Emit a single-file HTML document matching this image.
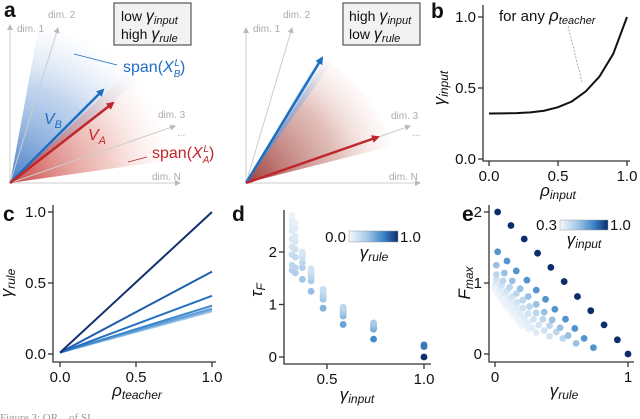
<!DOCTYPE html>
<html><head><meta charset="utf-8">
<style>
html,body{margin:0;padding:0;background:#fff;}
svg{display:block;font-family:"Liberation Sans",sans-serif;}
.tk{font-size:15px;fill:#111;}
.lt{font-size:21px;font-weight:bold;fill:#111;}
.ax{stroke:#333;stroke-width:1.3;fill:none;}
.dim{font-size:10px;fill:#aaa;}
</style></head><body>
<svg id="fig" width="640" height="419" viewBox="0 0 640 419" xmlns="http://www.w3.org/2000/svg">
<defs>
<radialGradient id="gB" cx="10" cy="183" r="165" gradientUnits="userSpaceOnUse">
<stop offset="0" stop-color="#3b78c4" stop-opacity="0.95"/><stop offset="0.6" stop-color="#7aa3db" stop-opacity="0.45"/><stop offset="1" stop-color="#c5d6f0" stop-opacity="0"/></radialGradient>
<radialGradient id="gR" cx="10" cy="183" r="165" gradientUnits="userSpaceOnUse">
<stop offset="0" stop-color="#c83a3a" stop-opacity="0.95"/><stop offset="0.6" stop-color="#e08a80" stop-opacity="0.45"/><stop offset="1" stop-color="#f5d0c8" stop-opacity="0"/></radialGradient>
<radialGradient id="gB2" cx="246" cy="183" r="150" gradientUnits="userSpaceOnUse">
<stop offset="0" stop-color="#3b78c4" stop-opacity="0.9"/><stop offset="0.7" stop-color="#8fb3e2" stop-opacity="0.5"/><stop offset="1" stop-color="#c5d6f0" stop-opacity="0"/></radialGradient>
<radialGradient id="gR2" cx="246" cy="183" r="158" gradientUnits="userSpaceOnUse">
<stop offset="0" stop-color="#9a3434" stop-opacity="0.95"/><stop offset="0.6" stop-color="#c98a80" stop-opacity="0.55"/><stop offset="1" stop-color="#f5d8d0" stop-opacity="0"/></radialGradient>
<linearGradient id="cb" x1="0" x2="1" y1="0" y2="0">
<stop offset="0" stop-color="#f4f8fc"/><stop offset="0.35" stop-color="#a9cbe8"/><stop offset="0.7" stop-color="#3d86c8"/><stop offset="1" stop-color="#0c2c6c"/></linearGradient>
<marker id="ab" markerWidth="8" markerHeight="8" refX="6" refY="4" orient="auto" markerUnits="userSpaceOnUse"><path d="M0,0 L8,4 L0,8 z" fill="#1f6fc0"/></marker>
<marker id="ar" markerWidth="8" markerHeight="8" refX="6" refY="4" orient="auto" markerUnits="userSpaceOnUse"><path d="M0,0 L8,4 L0,8 z" fill="#c0262d"/></marker>
<marker id="ag" markerWidth="6" markerHeight="6" refX="5" refY="3" orient="auto" markerUnits="userSpaceOnUse"><path d="M0,0 L6,3 L0,6 z" fill="#bbb"/></marker>
</defs>

<g>
<path d="M10,183 L40,20 A165,165 0 0 1 140,80 Z" fill="url(#gB)"/>
<path d="M10,183 L130,70 A165,165 0 0 1 172,160 Z" fill="url(#gR)"/>
<line x1="10" y1="183" x2="10" y2="25" stroke="#ccc" marker-end="url(#ag)"/>
<line x1="10" y1="183" x2="58" y2="28" stroke="#ccc" marker-end="url(#ag)"/>
<line x1="10" y1="183" x2="175" y2="126" stroke="#ccc" marker-end="url(#ag)"/>
<line x1="10" y1="183" x2="180" y2="183" stroke="#ccc" marker-end="url(#ag)"/>
<text class="dim" x="17" y="32">dim. 1</text>
<text class="dim" x="48" y="18">dim. 2</text>
<text class="dim" x="158" y="118">dim. 3</text>
<text class="dim" x="177" y="136">...</text>
<text class="dim" x="152" y="180">dim. N</text>
<line x1="10" y1="183" x2="103" y2="90" stroke="#1f6fc0" stroke-width="2.5" marker-end="url(#ab)"/>
<line x1="10" y1="183" x2="113" y2="103" stroke="#c0262d" stroke-width="2.5" marker-end="url(#ar)"/>
<text x="44" y="124" font-size="16" font-style="italic" fill="#1f6fc0">V<tspan font-size="11" dy="4">B</tspan></text>
<text x="88" y="140" font-size="16" font-style="italic" fill="#c0262d">V<tspan font-size="11" dy="4">A</tspan></text>
<line x1="74" y1="54" x2="117" y2="65" stroke="#1f6fc0" stroke-width="0.8"/>
<text x="123" y="72" font-size="16" fill="#1f6fc0">span(<tspan font-style="italic">X</tspan><tspan font-size="10" dy="5" font-style="italic">B</tspan><tspan font-size="10" dy="-11" dx="-6" font-style="italic">L</tspan><tspan dy="6">)</tspan></text>
<line x1="128" y1="162" x2="147" y2="157" stroke="#c0262d" stroke-width="0.8"/>
<text x="152" y="158" font-size="16" fill="#c0262d">span(<tspan font-style="italic">X</tspan><tspan font-size="10" dy="5" font-style="italic">A</tspan><tspan font-size="10" dy="-11" dx="-6" font-style="italic">L</tspan><tspan dy="6">)</tspan></text>
<rect x="114" y="3" width="77" height="42" fill="#f2f2f2" stroke="#555" stroke-width="1.2"/>
<text x="121" y="21" font-size="14" fill="#111">low <tspan font-style="italic" font-size="16">γ</tspan><tspan font-style="italic" font-size="11" dy="3">input</tspan></text>
<text x="121" y="39" font-size="14" fill="#111">high <tspan font-style="italic" font-size="16">γ</tspan><tspan font-style="italic" font-size="11" dy="3">rule</tspan></text>
<text class="lt" x="4" y="17">a</text>
</g>

<g>
<path d="M246,183 L325,60 A150,150 0 0 1 392,146 Z" fill="url(#gR2)"/>
<path d="M246,183 L322,52 L336,57 Z" fill="url(#gB2)"/>
<line x1="246" y1="183" x2="246" y2="28" stroke="#ccc" marker-end="url(#ag)"/>
<line x1="246" y1="183" x2="292" y2="28" stroke="#ccc" marker-end="url(#ag)"/>
<line x1="246" y1="183" x2="410" y2="126" stroke="#ccc" marker-end="url(#ag)"/>
<line x1="246" y1="183" x2="420" y2="183" stroke="#ccc" marker-end="url(#ag)"/>
<text class="dim" x="253" y="32">dim. 1</text>
<text class="dim" x="283" y="18">dim. 2</text>
<text class="dim" x="391" y="119">dim. 3</text>
<text class="dim" x="412" y="136">...</text>
<text class="dim" x="389" y="180">dim. N</text>
<line x1="246" y1="183" x2="322" y2="58" stroke="#1f6fc0" stroke-width="2.5" marker-end="url(#ab)"/>
<line x1="246" y1="183" x2="378" y2="137" stroke="#c0262d" stroke-width="2.5" marker-end="url(#ar)"/>
<rect x="343" y="3" width="77" height="42" fill="#f2f2f2" stroke="#555" stroke-width="1.2"/>
<text x="349" y="21" font-size="14" fill="#111">high <tspan font-style="italic" font-size="16">γ</tspan><tspan font-style="italic" font-size="11" dy="3">input</tspan></text>
<text x="349" y="39" font-size="14" fill="#111">low <tspan font-style="italic" font-size="16">γ</tspan><tspan font-style="italic" font-size="11" dy="3">rule</tspan></text>
</g>

<g id="pb"></g>
<g id="pc"></g>
<g id="pd"></g>
<g id="pe"></g>
<text x="0" y="421" font-size="11" fill="#999" font-family="Liberation Serif">Figure 3: OR... of SL...</text>
</svg>
<script>
// Panel b data
const bX = [0, 0.1, 0.2, 0.3, 0.4, 0.5, 0.6, 0.7, 0.8, 0.9, 1.0];
const bY = [0.32, 0.321, 0.323, 0.328, 0.34, 0.365, 0.405, 0.475, 0.58, 0.74, 1.0];
const bTicksX = [0, 0.5, 1.0];
const bTicksY = [0, 0.5, 1.0];
// Panel c data
const cRates = [1.0, 0.58, 0.41, 0.34, 0.32, 0.31, 0.30];
const cColors = ["#11306f", "#1d5dab", "#2671bf", "#3d86cb", "#5e9dd6", "#80b3e0", "#a4c9e9"];
const cTicks = [0, 0.5, 1.0];
// Panel d data
const dGamma = [0.32, 0.337, 0.373, 0.418, 0.48, 0.583, 0.74, 1.0];
const dTau = [
 [1.65,1.75,1.95,2.1,2.25,2.4,2.5,2.6,2.7],
 [1.6,1.7,1.9,2.05,2.2,2.3,2.45,2.55],
 [1.48,1.7,1.8,1.9,1.95,2.0],
 [1.25,1.45,1.52,1.58,1.63,1.68],
 [0.93,1.1,1.15,1.2,1.25,1.29],
 [0.62,0.78,0.83,0.88,0.92,0.95],
 [0.34,0.53,0.56,0.59,0.62,0.65],
 [0.0,0.2,0.23]
];
const dRule = [
 [0.3,0.25,0.2,0.15,0.12,0.1,0.08,0.06,0.04],
 [0.32,0.27,0.22,0.17,0.13,0.1,0.07,0.05],
 [0.38,0.3,0.25,0.2,0.16,0.12],
 [0.42,0.34,0.28,0.24,0.2,0.16],
 [0.48,0.38,0.32,0.27,0.23,0.2],
 [0.56,0.45,0.4,0.35,0.3,0.26],
 [0.68,0.52,0.48,0.44,0.4,0.36],
 [1.0,0.78,0.74]
];
const dTicksX = [0.5, 1.0];
const dTicksY = [0, 1, 2];
// Panel e data
const eGamma = [0.31, 0.33, 0.36, 0.41, 0.48, 0.58, 0.74, 1.0];
const eX = [
 [0,0.02,0.04,0.06,0.08,0.1,0.12,0.14,0.16,0.18,0.2],
 [0,0.03,0.05,0.08,0.1,0.13,0.15,0.18,0.2,0.23,0.25],
 [0.01,0.04,0.07,0.1,0.13,0.16,0.19,0.22,0.25,0.28,0.31],
 [0.01,0.05,0.09,0.13,0.17,0.21,0.25,0.29,0.33,0.37,0.41],
 [0.01,0.06,0.11,0.16,0.21,0.26,0.31,0.36,0.41,0.46,0.51],
 [0.01,0.07,0.13,0.19,0.25,0.31,0.37,0.43,0.49,0.55,0.61],
 [0.02,0.09,0.16,0.24,0.31,0.38,0.45,0.53,0.6,0.67,0.74],
 [0.02,0.12,0.22,0.32,0.42,0.52,0.62,0.72,0.82,0.92,1.0]
];
const eF = [
 [0.9,0.85,0.8,0.75,0.7,0.65,0.6,0.55,0.5,0.45,0.4],
 [0.95,0.89,0.83,0.77,0.71,0.65,0.59,0.53,0.47,0.41,0.35],
 [1.0,0.93,0.86,0.79,0.72,0.65,0.58,0.51,0.44,0.37,0.3],
 [1.05,0.97,0.89,0.81,0.73,0.65,0.57,0.49,0.41,0.33,0.25],
 [1.12,1.03,0.94,0.85,0.76,0.67,0.58,0.49,0.4,0.31,0.22],
 [1.25,1.14,1.03,0.92,0.81,0.7,0.59,0.48,0.37,0.26,0.15],
 [1.44,1.31,1.17,1.04,0.9,0.77,0.63,0.49,0.36,0.22,0.09],
 [2.0,1.81,1.62,1.42,1.22,1.02,0.81,0.61,0.41,0.2,0.0]
];
const eTicksX = [0, 1];
const eTicksY = [0, 1, 2];

const NS = "http://www.w3.org/2000/svg";
function mk(parent, tag, attrs, txt) {
  const e = document.createElementNS(NS, tag);
  for (const k in attrs) e.setAttribute(k, attrs[k]);
  if (txt !== undefined) e.textContent = txt;
  parent.appendChild(e);
  return e;
}
function lin(d0, d1, r0, r1) { return v => r0 + (v - d0) * (r1 - r0) / (d1 - d0); }
function hex(c){return [parseInt(c.substr(1,2),16),parseInt(c.substr(3,2),16),parseInt(c.substr(5,2),16)];}
const stops = [[0,"#f2f7fc"],[0.35,"#a9cbe8"],[0.7,"#3d86c8"],[1,"#0c2c6c"]];
function cmap(t) {
  t = Math.max(0, Math.min(1, t));
  for (let i = 1; i < stops.length; i++) {
    if (t <= stops[i][0]) {
      const a = hex(stops[i-1][1]), b = hex(stops[i][1]);
      const f = (t - stops[i-1][0]) / (stops[i][0] - stops[i-1][0]);
      return "rgb(" + a.map((v, j) => Math.round(v + (b[j] - v) * f)).join(",") + ")";
    }
  }
  return stops[3][1];
}
function fmt(v, d) { return v.toFixed(d); }
function axes(g, x0, x1, y0, y1, sx, sy, tx, ty, dx, dy, xLabel, yLabel, xLblPos, yLblPos) {
  const xa = mk(g, "path", {class: "ax", d: `M${x0},${y1} L${x0},${y0} L${x1},${y0}`});
  
  
  tx.forEach(v => {
    const x = sx(v);
    mk(g, "line", {x1: x, x2: x, y1: y0, y2: y0 + 5, class: "ax"});
    const t = mk(g, "text", {class: "tk", x: x, y: y0 + 20, "text-anchor": "middle"}, fmt(v, dx));
    
    
  });
  ty.forEach(v => {
    const y = sy(v);
    mk(g, "line", {x1: x0 - 5, x2: x0, y1: y, y2: y, class: "ax"});
    const t = mk(g, "text", {class: "tk", x: x0 - 7, y: y + 5, "text-anchor": "end"}, fmt(v, dy));
    
    
  });
  const xl = mk(g, "text", {x: xLblPos[0], y: xLblPos[1], "text-anchor": "middle", "font-size": 17, "font-style": "italic", fill: "#111"});
  xl.innerHTML = `${xLabel[0]}<tspan font-size="12" dy="3">${xLabel[1]}</tspan>`;
  
  
  const yl = mk(g, "text", {x: 0, y: 0, "text-anchor": "middle", "font-size": 17, "font-style": "italic", fill: "#111", transform: `translate(${yLblPos[0]},${yLblPos[1]}) rotate(-90)`});
  yl.innerHTML = `${yLabel[0]}<tspan font-size="12" dy="3">${yLabel[1]}</tspan>`;
  
  
}

(function(){
  const g = document.getElementById("pb");
  const sx = lin(0, 1, 489, 627), sy = lin(0, 1, 159, 17);
  axes(g, 483, 630, 161, 5, sx, sy, bTicksX, bTicksY, 1, 1, ["ρ","input"], ["γ","input"], [558, 196], [445, 88]);
  const p = mk(g, "path", {d: bX.map((x, i) => (i ? "L" : "M") + sx(x) + "," + sy(bY[i])).join(" "), fill: "none", stroke: "#111", "stroke-width": 2});
  
  
  mk(g, "line", {x1: 568, y1: 26, x2: 582, y2: 82, stroke: "#999", "stroke-width": 0.8, "stroke-dasharray": "2,1.5"});
  const t = mk(g, "text", {x: 499, y: 21, "font-size": 15, fill: "#111"});
  t.innerHTML = 'for any <tspan font-style="italic" font-size="17">ρ</tspan><tspan font-style="italic" font-size="11" dy="3">teacher</tspan>';
  
  
  mk(g, "text", {class: "lt", x: 431, y: 18, "font-size": 23}, "b");
})();

(function(){
  const g = document.getElementById("pc");
  const sx = lin(0, 1, 60, 212), sy = lin(0, 1, 354, 212);
  axes(g, 53, 216, 362, 205, sx, sy, cTicks, cTicks, 1, 1, ["ρ","teacher"], ["γ","rule"], [137, 396], [12, 283]);
  cRates.slice().reverse().forEach((r, k) => {
    const i = cRates.length - 1 - k;
    const l = mk(g, "line", {x1: sx(0), y1: sy(0.01), x2: sx(1), y2: sy(r), stroke: cColors[i], "stroke-width": 2});
    
    
  });
  mk(g, "text", {class: "lt", x: 3, y: 221}, "c");
})();

(function(){
  const g = document.getElementById("pd");
  const sx = lin(0.5, 1.0, 327, 424), sy = lin(0, 2, 357, 252);
  axes(g, 284, 431, 364, 210, sx, sy, dTicksX, dTicksY, 1, 0, ["γ","input"], ["τ","F"], [357, 400], [262, 290]);
  dGamma.forEach((gm, i) => {
    dTau[i].forEach((tv, j) => {
      const c = mk(g, "circle", {cx: sx(gm), cy: sy(tv), r: 3.4, fill: cmap(dRule[i][j])});
      
      
    });
  });
  const cb = mk(g, "rect", {x: 349, y: 231, width: 49, height: 11, fill: "url(#cb)", stroke: "#999", "stroke-width": 0.5});
  
  
  mk(g, "text", {class: "tk", x: 346, y: 242, "text-anchor": "end"}, "0.0");
  mk(g, "text", {class: "tk", x: 400, y: 242}, "1.0");
  const lt = mk(g, "text", {x: 374, y: 258, "text-anchor": "middle", "font-size": 17, "font-style": "italic", fill: "#111"});
  lt.innerHTML = 'γ<tspan font-size="12" dy="3">rule</tspan>';
  
  
  mk(g, "text", {class: "lt", x: 232, y: 221}, "d");
})();

(function(){
  const g = document.getElementById("pe");
  const sx = lin(0, 1, 495, 628), sy = lin(0, 2, 354, 212);
  axes(g, 489, 634, 362, 205, sx, sy, eTicksX, eTicksY, 0, 0, ["γ","rule"], ["F","max"], [564, 396], [470, 283]);
  eGamma.forEach((gm, i) => {
    eX[i].forEach((xv, j) => {
      const c = mk(g, "circle", {cx: sx(xv), cy: sy(eF[i][j]), r: 3.4, fill: cmap((gm - 0.3) / 0.7)});
      
      
    });
  });
  const cb = mk(g, "rect", {x: 560, y: 220, width: 48, height: 10, fill: "url(#cb)", stroke: "#999", "stroke-width": 0.5});
  
  
  mk(g, "text", {class: "tk", x: 557, y: 230, "text-anchor": "end"}, "0.3");
  mk(g, "text", {class: "tk", x: 610, y: 230}, "1.0");
  const lt = mk(g, "text", {x: 584, y: 245, "text-anchor": "middle", "font-size": 17, "font-style": "italic", fill: "#111"});
  lt.innerHTML = 'γ<tspan font-size="12" dy="3">input</tspan>';
  
  
  mk(g, "text", {class: "lt", x: 462, y: 221}, "e");
})();
</script>
</body></html>
